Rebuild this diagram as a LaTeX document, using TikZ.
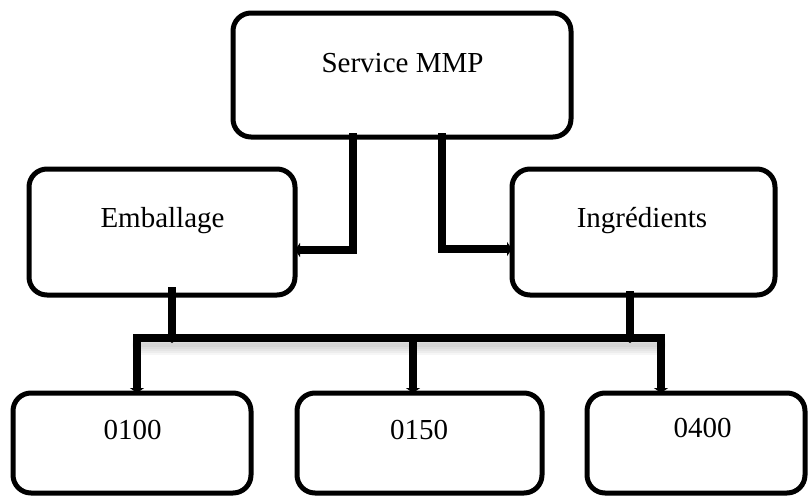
\documentclass[tikz,border=0pt]{standalone}
\usepackage{fontspec}
\setmainfont{Liberation Serif}
\usetikzlibrary{arrows.meta}

\tikzset{
  box/.style={draw=black, line width=5pt, rounded corners=18pt, fill=white,
              inner sep=0pt, outer sep=0pt},
  lbl/.style={anchor=base, inner sep=0pt, font=\fontsize{29}{34}\selectfont},
  conn/.style={draw=black, line width=8pt,
               -{Triangle[width=14pt,length=5pt]}},
  busline/.style={draw=black, line width=8pt, line cap=rect},
  shade/.style={draw=black, line cap=round, opacity=0.035}
}

\begin{document}
\begin{tikzpicture}[x=1pt, y=-1pt]
  \useasboundingbox (0,0) rectangle (808,496);

  % boxes
  \node[box, minimum width=338pt, minimum height=124pt] (svc) at (402,75) {};
  \node[box, minimum width=266pt, minimum height=126pt] (emb) at (162,232) {};
  \node[box, minimum width=263pt, minimum height=126pt] (ing) at (643.5,232) {};
  \node[box, minimum width=238pt, minimum height=100pt] (o100) at (132,443) {};
  \node[box, minimum width=245pt, minimum height=100pt] (o150) at (419.5,443) {};
  \node[box, minimum width=218pt, minimum height=100pt] (o400) at (696,443) {};

  % labels
  \node[lbl] (tsvc) at (402.5,72) {Service MMP};
  \node[lbl] (temb) at (162.5,227) {Emballage};
  \node[lbl] (ting) at (642,227) {Ingrédients};
  \node[lbl] (t100) at (132.5,439) {0100};
  \node[lbl] (t150) at (419,439) {0150};
  \node[lbl] (t400) at (702.5,437) {0400};

  % service to its two departments
  \draw[conn] ([yshift=4pt]svc.south -| 353,0) |- (emb.east |- 0,250);
  \draw[conn] ([yshift=4pt]svc.south -| 442,0) |- (ing.west |- 0,249);

  % shared bus feeding the three codes, with a soft shadow beneath
  \coordinate (busL) at (137,338);
  \coordinate (busM) at (413,338);
  \coordinate (busR) at (661,338);
  \foreach \w in {20,16,12,8,4}
    \draw[shade, line width=\w pt] (142,345) -- (656,345);
  \draw[busline] (busL) -- (busR);

  \draw[conn] ([yshift=8pt]emb.south -| 172,0) -- (172,343);
  \draw[conn] ([yshift=4pt]ing.south -| 630,0) -- (630,343);

  \draw[conn] (busL) -- (o100.north -| busL);
  \draw[conn] (busM) -- (o150.north -| busM);
  \draw[conn] (busR) -- (o400.north -| busR);
\end{tikzpicture}
\end{document}
